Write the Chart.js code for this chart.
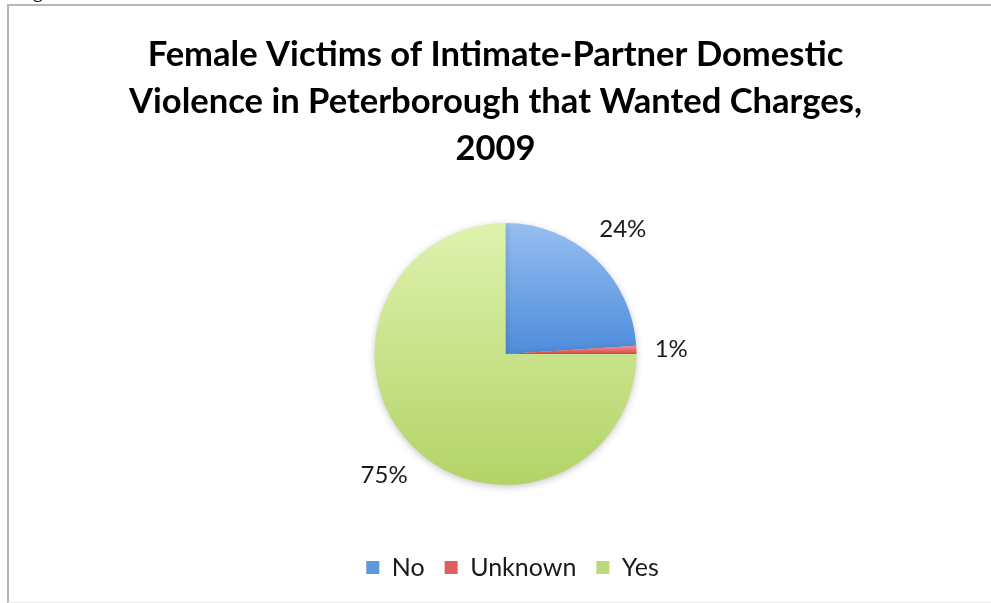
<!DOCTYPE html>
<html>
<head>
<meta charset="utf-8">
<script src="https://cdn.jsdelivr.net/npm/chart.js@4.4.1/dist/chart.umd.min.js"></script>
<style>
  html, body { margin: 0; padding: 0; background: #fff; width: 991px; height: 603px; overflow: hidden; }
  #caption { position: absolute; left: 16px; top: -21px; font: 20px "Liberation Serif", serif; color: #000; white-space: nowrap; }
  #frame { position: absolute; left: 7px; top: 4px; width: 1000px; height: 596px; border-top: 2px solid #b8b8b8; border-left: 2px solid #b4b4b4; border-bottom: 1px solid #ececec; }
  #chart { position: absolute; left: 0; top: 0; }
</style>
</head>
<body>
<div id="caption">Figure</div>
<div id="frame"></div>
<canvas id="chart" width="991" height="603"></canvas>
<script>
// Wishes of female intimate-partner domestic violence victims, Peterborough 2009
const categories = ["No", "Unknown", "Yes"];
const shares = [24, 1, 75];
const titleLines = [
  "Female Victims of Intimate-Partner Domestic",
  "Violence in Peterborough that Wanted Charges,",
  "2009"
];

// top / bottom shades of each slice
const sliceTop = ["#96bff1", "#f28e8c", "#def2ad"];
const sliceBottom = ["#4e8cdb", "#dc4f4d", "#b3d367"];
const swatch = ["#5f97dc", "#e0605e", "#bcd97a"];
const PIE_RADIUS = 131;

// vertical gradient spanning the slice's own extent
function sliceFill(ctx) {
  const chart = ctx.chart;
  const area = chart.chartArea;
  if (!area) return swatch[ctx.dataIndex];
  const cy = (area.top + area.bottom) / 2;
  const total = shares.reduce((a, b) => a + b, 0);
  const before = shares.slice(0, ctx.dataIndex).reduce((a, b) => a + b, 0);
  const start = -Math.PI / 2 + before / total * Math.PI * 2;
  const end = start + shares[ctx.dataIndex] / total * Math.PI * 2;
  let minY = cy, maxY = cy;
  const steps = 64;
  for (let s = 0; s <= steps; s++) {
    const a = start + (end - start) * s / steps;
    const y = cy + Math.sin(a) * PIE_RADIUS;
    minY = Math.min(minY, y);
    maxY = Math.max(maxY, y);
  }
  if (maxY - minY < 2) maxY = minY + 2;
  const g = chart.ctx.createLinearGradient(0, minY, 0, maxY);
  g.addColorStop(0, sliceTop[ctx.dataIndex]);
  g.addColorStop(1, sliceBottom[ctx.dataIndex]);
  return g;
}

// nudges the plot area and legend sideways
const shiftBoxes = {
  id: "shiftBoxes",
  afterLayout(chart) {
    chart.chartArea.left += 20;
    chart.legend.left += 17;
    chart.legend.right += 17;
  }
};

// soft shadow under the pie
const pieShadow = {
  id: "pieShadow",
  beforeDatasetsDraw(chart) {
    const c = chart.ctx;
    c.save();
    c.shadowColor = 'rgba(0,0,0,0.22)';
    c.shadowBlur = 7;
    c.shadowOffsetX = 0;
    c.shadowOffsetY = 2;
  },
  afterDatasetsDraw(chart) {
    chart.ctx.restore();
  }
};

// percentage labels placed just outside each slice, keeping a fixed gap
const outsideLabels = {
  id: "outsideLabels",
  afterDatasetsDraw(chart) {
    const c = chart.ctx;
    const meta = chart.getDatasetMeta(0);
    const gap = 18, textH = 17;
    c.save();
    c.font = '24px Lato';
    c.fillStyle = '#1a1a1a';
    c.textAlign = 'center';
    c.textBaseline = 'middle';
    meta.data.forEach((arc, i) => {
      const text = shares[i] + '%';
      const w = c.measureText(text).width;
      const mid = (arc.startAngle + arc.endAngle) / 2;
      const cos = Math.cos(mid), sin = Math.sin(mid);
      const d = arc.outerRadius + gap + Math.abs(cos) * w / 2 + Math.abs(sin) * textH / 2;
      c.fillText(text, arc.x + cos * d, arc.y + sin * d);
    });
    c.restore();
  }
};

new Chart(document.getElementById('chart'), {
  type: 'pie',
  data: {
    labels: categories,
    datasets: [{
      data: shares,
      backgroundColor: sliceFill,
      borderWidth: 0,
      radius: PIE_RADIUS
    }]
  },
  options: {
    responsive: false,
    animation: false,
    layout: { padding: { top: 21, bottom: 13, left: 0, right: 0 } },
    plugins: {
      title: {
        display: true,
        text: titleLines,
        color: '#000',
        font: { family: 'Lato', weight: 'bold', size: 34.6, lineHeight: 47 / 34.6 },
        padding: { top: 10, bottom: 1 }
      },
      legend: {
        position: 'bottom',
        labels: {
          boxWidth: 13,
          boxHeight: 13,
          padding: 20,
          color: '#1a1a1a',
          font: { family: 'Lato', size: 25 },
          generateLabels(chart) {
            return categories.map((name, i) => ({
              text: name,
              fillStyle: swatch[i],
              strokeStyle: swatch[i],
              lineWidth: 0,
              fontColor: '#1a1a1a',
              index: i,
              hidden: false
            }));
          }
        }
      },
      tooltip: { enabled: false }
    }
  },
  plugins: [shiftBoxes, pieShadow, outsideLabels]
});
</script>
</body>
</html>
